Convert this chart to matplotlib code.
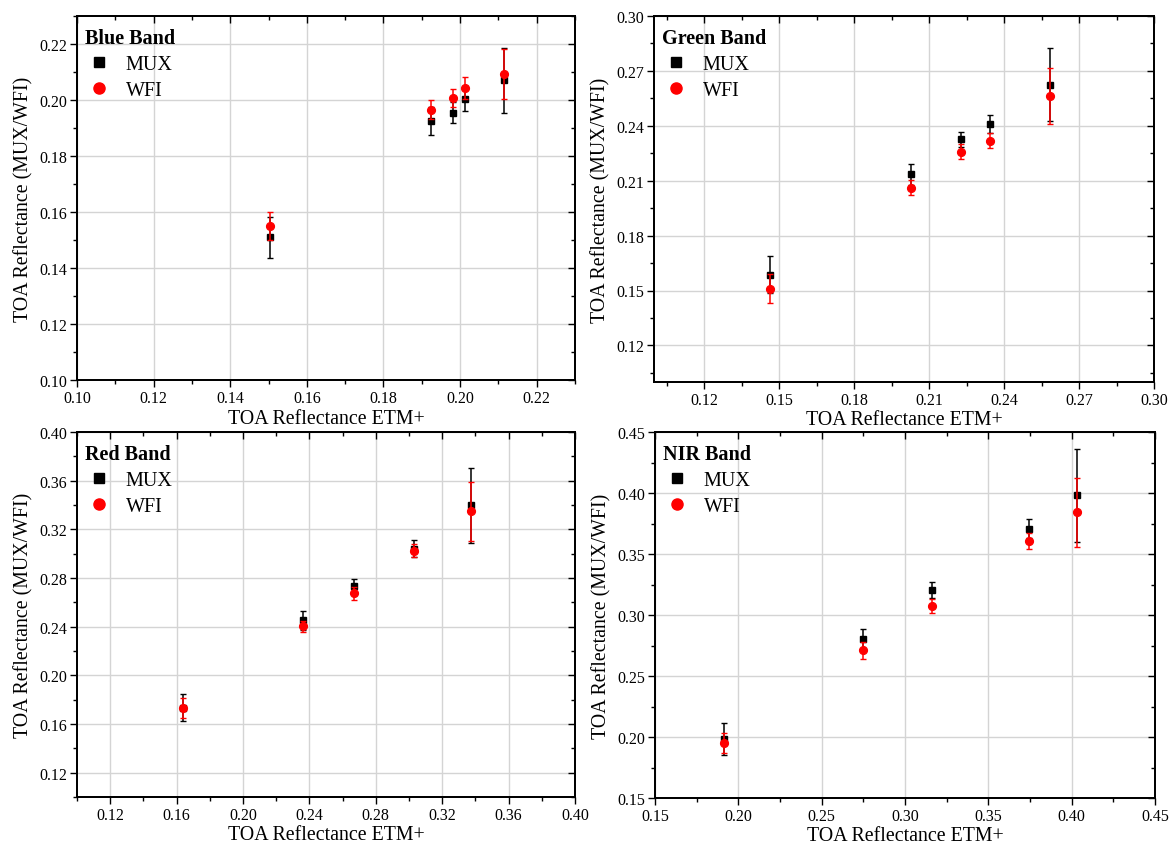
import matplotlib
matplotlib.use("Agg")
import matplotlib.pyplot as plt
from matplotlib.ticker import MultipleLocator, FormatStrFormatter
from matplotlib.lines import Line2D

plt.rcParams['font.family'] = ['Liberation Serif', 'DejaVu Serif']

# ---- data: ETM+ reference reflectance vs. MUX / WFI reflectance ----
blue_etm = [0.1505, 0.1923, 0.1982, 0.2013, 0.2114]
blue_mux = [0.1509, 0.1926, 0.1955, 0.2005, 0.2070]
blue_mux_err = [0.0073, 0.0050, 0.0038, 0.0045, 0.0116]
blue_wfi = [0.1549, 0.1966, 0.2007, 0.2043, 0.2093]
blue_wfi_err = [0.0050, 0.0035, 0.0032, 0.0039, 0.0090]

green_etm = [0.1462, 0.2029, 0.2228, 0.2345, 0.2583]
green_mux = [0.1587, 0.2135, 0.2326, 0.2410, 0.2625]
green_mux_err = [0.0100, 0.0056, 0.0042, 0.0050, 0.0200]
green_wfi = [0.1510, 0.2062, 0.2259, 0.2319, 0.2563]
green_wfi_err = [0.0080, 0.0040, 0.0040, 0.0040, 0.0155]

red_etm = [0.1636, 0.2364, 0.2667, 0.3029, 0.3373]
red_mux = [0.1735, 0.2451, 0.2738, 0.3041, 0.3396]
red_mux_err = [0.0110, 0.0080, 0.0055, 0.0068, 0.0305]
red_wfi = [0.1730, 0.2402, 0.2675, 0.3025, 0.3347]
red_wfi_err = [0.0080, 0.0047, 0.0052, 0.0055, 0.0240]

nir_etm = [0.1916, 0.2747, 0.3161, 0.3743, 0.4034]
nir_mux = [0.1984, 0.2801, 0.3203, 0.3707, 0.3980]
nir_mux_err = [0.0130, 0.0088, 0.0066, 0.0077, 0.0380]
nir_wfi = [0.1951, 0.2711, 0.3072, 0.3606, 0.3841]
nir_wfi_err = [0.0082, 0.0070, 0.0057, 0.0066, 0.0285]

band_names = ["Blue Band", "Green Band", "Red Band", "NIR Band"]
series_names = ["MUX", "WFI"]

panels = [
    dict(name=band_names[0], x=blue_etm, mux=blue_mux, mux_err=blue_mux_err,
         wfi=blue_wfi, wfi_err=blue_wfi_err,
         xlim=(0.10, 0.23), ylim=(0.10, 0.23), major=0.02, minor=0.01,
         rect=(77, 17, 575, 381)),
    dict(name=band_names[1], x=green_etm, mux=green_mux, mux_err=green_mux_err,
         wfi=green_wfi, wfi_err=green_wfi_err,
         xlim=(0.10, 0.30), ylim=(0.10, 0.30), major=0.03, minor=0.015,
         rect=(654, 17, 1154, 383)),
    dict(name=band_names[2], x=red_etm, mux=red_mux, mux_err=red_mux_err,
         wfi=red_wfi, wfi_err=red_wfi_err,
         xlim=(0.10, 0.40), ylim=(0.10, 0.40), major=0.04, minor=0.02,
         rect=(77, 433, 575, 798)),
    dict(name=band_names[3], x=nir_etm, mux=nir_mux, mux_err=nir_mux_err,
         wfi=nir_wfi, wfi_err=nir_wfi_err,
         xlim=(0.15, 0.45), ylim=(0.15, 0.45), major=0.05, minor=0.025,
         rect=(655, 433, 1155, 799)),
]

W, H = 1171, 845
fig = plt.figure(figsize=(W / 100, H / 100), dpi=100)


def set_locators(axis, major, minor):
    axis.set_major_locator(MultipleLocator(major))
    axis.set_minor_locator(MultipleLocator(minor))


for p in panels:
    l, t, r, b = p["rect"]
    ax = fig.add_axes([l / W, 1 - b / H, (r - l) / W, (b - t) / H])

    ax.errorbar(p["x"], p["mux"], yerr=p["mux_err"], fmt='s', color='black',
                ms=5.0, elinewidth=1.1, capsize=2, capthick=1.0, zorder=3)
    ax.errorbar(p["x"], p["wfi"], yerr=p["wfi_err"], fmt='o', color='red',
                ms=5.6, elinewidth=1.1, capsize=2, capthick=1.0, zorder=4)

    ax.set_xlim(*p["xlim"])
    ax.set_ylim(*p["ylim"])
    for axis in (ax.xaxis, ax.yaxis):
        set_locators(axis, p["major"], p["minor"])
        axis.set_major_formatter(FormatStrFormatter('%.2f'))

    ax.grid(True, which='major', color='#d4d4d4', linewidth=1.0, zorder=0)
    ax.set_axisbelow(True)

    ax.tick_params(which='major', direction='out', length=5, width=1.0,
                   labelsize=11.5, pad=2, top=False, right=False)
    ax.tick_params(which='minor', direction='out', length=3, width=1.0,
                   top=False, right=False)

    # mirrored inward ticks along the top and right spines
    tx = ax.twiny()
    tx.set_xlim(*p["xlim"])
    set_locators(tx.xaxis, p["major"], p["minor"])
    tx.tick_params(axis='x', which='major', direction='in', length=5,
                   width=1.0, labeltop=False, labelbottom=False)
    tx.tick_params(axis='x', which='minor', direction='in', length=3,
                   width=1.0)
    ty = ax.twinx()
    ty.set_ylim(*p["ylim"])
    set_locators(ty.yaxis, p["major"], p["minor"])
    ty.tick_params(axis='y', which='major', direction='in', length=5,
                   width=1.0, labelright=False, labelleft=False)
    ty.tick_params(axis='y', which='minor', direction='in', length=3,
                   width=1.0)

    for a in (ax, tx, ty):
        for s in a.spines.values():
            s.set_linewidth(1.2)

    ax.set_xlabel("TOA Reflectance ETM+", fontsize=14.3, labelpad=2)
    ax.set_ylabel("TOA Reflectance (MUX/WFI)", fontsize=14.3, labelpad=4)

    handles = [
        Line2D([], [], ls='none', marker='s', color='black', ms=6.6),
        Line2D([], [], ls='none', marker='o', color='red', ms=8.0),
    ]
    ty.legend(handles, series_names, title=p["name"], loc='upper left',
              bbox_to_anchor=(0.0, 1.0 - 4.0 / (b - t)), frameon=False,
              fontsize=14.5,
              title_fontproperties={'weight': 'bold', 'size': 14.5},
              alignment='left', handlelength=1.3, handletextpad=0.7,
              labelspacing=0.33, borderaxespad=0.2, borderpad=0.22)

fig.savefig("out.png", dpi=100)
